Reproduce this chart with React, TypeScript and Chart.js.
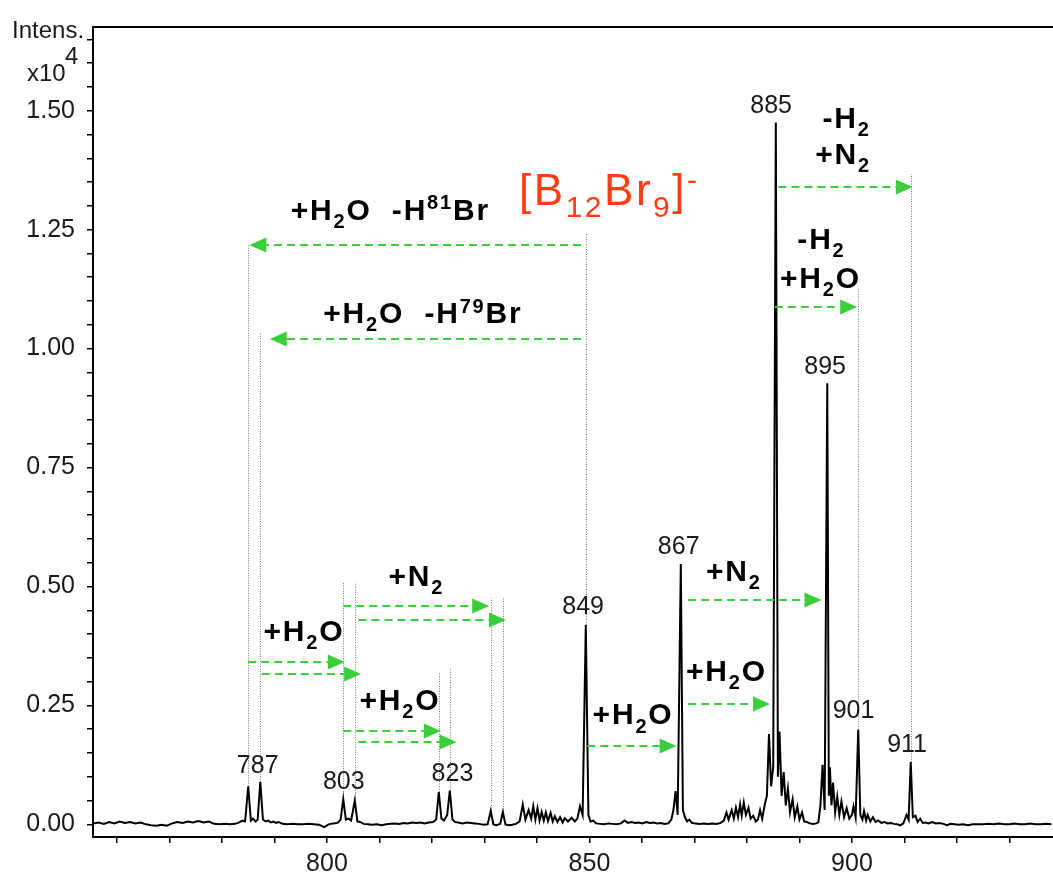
import React, { useEffect, useRef } from 'react';
import { Chart, registerables } from 'chart.js';

Chart.register(...registerables);

// ---- data: [m/z, intensity (x10^4)] ----
const spectrum: [number, number][] = [
  [755.5, 0.002], [756.5, 0.004], [757.5, 0.001], [758.5, 0.005], [759.5, 0.002], [760.5, 0.006],
  [761.5, 0.003], [762.5, 0.005], [763.5, 0.002], [764.5, 0.004], [765.5, 0.0], [766.5, -0.002],
  [767.5, -0.003], [768.5, -0.001], [769.5, -0.003], [770.5, 0.002], [771.5, 0.005], [772.5, 0.003],
  [773.5, 0.006], [774.5, 0.004], [775.5, 0.007], [776.5, 0.004], [777.5, 0.006], [778.5, 0.001],
  [779.5, 0.0], [780.5, 0.001], [781.5, 0.0], [782.5, 0.001], [783.3, 0.004], [783.9, 0.008],
  [784.4, 0.006], [785.0, 0.08], [785.5, 0.008], [785.9, 0.012], [786.4, 0.006], [786.8, 0.01],
  [787.3, 0.089], [787.8, 0.01], [788.3, 0.006], [788.8, 0.008], [789.3, 0.004], [789.8, 0.006],
  [790.3, 0.003], [790.8, 0.005], [791.5, 0.001], [792.5, 0.0], [793.5, 0.001], [794.5, 0.0],
  [795.5, 0.0], [796.5, 0.001], [797.5, 0.0], [798.5, -0.001], [799.5, -0.006], [800.3, 0.0],
  [801.2, 0.002], [802.0, 0.003], [802.6, 0.01], [803.1, 0.053], [803.6, 0.01], [804.1, 0.012],
  [804.6, 0.008], [805.3, 0.05], [805.8, 0.006], [806.3, 0.005], [807.0, 0.001], [807.8, 0.0],
  [808.6, -0.001], [809.5, 0.0], [810.4, -0.002], [811.3, 0.0], [812.2, 0.001], [813.0, 0.002],
  [813.8, 0.001], [814.6, 0.003], [815.4, 0.002], [816.2, 0.004], [817.0, 0.003], [817.8, 0.004],
  [818.6, 0.002], [819.4, 0.004], [820.2, 0.005], [820.8, 0.01], [821.3, 0.068], [821.8, 0.012],
  [822.3, 0.008], [822.9, 0.02], [823.4, 0.071], [823.9, 0.01], [824.4, 0.005], [825.0, 0.004],
  [825.8, 0.002], [826.6, 0.004], [827.4, 0.003], [828.2, 0.002], [829.0, 0.001], [829.8, -0.001],
  [830.6, 0.0], [831.2, 0.028], [831.7, 0.0], [832.3, -0.002], [833.0, 0.001], [833.5, 0.026],
  [834.0, 0.0], [834.6, -0.002], [835.3, -0.001], [836.0, 0.001], [836.7, 0.006], [837.3, 0.042],
  [837.8, 0.01], [838.4, 0.03], [838.9, 0.012], [839.3, 0.038], [839.7, 0.01], [840.1, 0.034],
  [840.5, 0.008], [840.9, 0.026], [841.3, 0.008], [841.7, 0.025], [842.1, 0.007], [842.6, 0.024],
  [843.0, 0.006], [843.4, 0.017], [843.9, 0.005], [844.4, 0.015], [844.9, 0.004], [845.3, 0.013],
  [845.9, 0.006], [846.6, 0.014], [847.2, 0.006], [847.7, 0.012], [848.2, 0.038], [848.7, 0.02],
  [849.3, 0.419], [849.8, 0.02], [850.2, 0.006], [850.7, 0.008], [851.3, 0.002], [852.0, 0.001],
  [852.8, 0.0], [853.6, 0.002], [854.4, 0.001], [855.2, 0.0], [856.0, 0.002], [856.7, 0.008],
  [857.3, 0.003], [858.0, 0.005], [858.7, 0.003], [859.4, 0.004], [860.1, 0.002], [860.8, 0.005],
  [861.5, 0.003], [862.2, 0.004], [862.9, 0.002], [863.6, 0.003], [864.3, 0.001], [865.0, 0.002],
  [865.6, 0.01], [866.0, 0.03], [866.4, 0.07], [866.8, 0.02], [867.4, 0.547], [867.8, 0.03],
  [868.2, 0.015], [868.6, 0.006], [869.0, 0.01], [869.5, 0.003], [870.2, 0.002], [871.0, 0.001],
  [871.8, 0.002], [872.6, 0.001], [873.4, 0.002], [874.2, 0.001], [875.0, 0.003], [875.6, 0.008],
  [876.1, 0.025], [876.5, 0.01], [877.1, 0.03], [877.5, 0.012], [877.9, 0.035], [878.3, 0.015],
  [878.7, 0.042], [879.0, 0.018], [879.4, 0.046], [879.8, 0.02], [880.3, 0.035], [880.7, 0.012],
  [881.2, 0.018], [881.7, 0.006], [882.1, 0.01], [882.5, 0.03], [882.9, 0.012], [883.4, 0.042],
  [883.8, 0.06], [884.2, 0.19], [884.6, 0.08], [885.0, 0.12], [885.5, 1.475], [885.9, 0.1],
  [886.2, 0.195], [886.6, 0.06], [887.0, 0.11], [887.4, 0.04], [887.8, 0.075], [888.2, 0.025],
  [888.7, 0.053], [889.1, 0.015], [889.6, 0.038], [890.0, 0.01], [890.5, 0.025], [890.9, 0.006],
  [891.4, 0.005], [892.0, 0.002], [892.6, 0.001], [893.2, 0.002], [893.6, 0.004], [894.0, 0.04],
  [894.4, 0.125], [894.8, 0.03], [895.3, 0.927], [895.6, 0.06], [895.8, 0.12], [896.1, 0.04],
  [896.4, 0.088], [896.8, 0.025], [897.2, 0.058], [897.6, 0.02], [898.0, 0.048], [898.5, 0.015],
  [899.0, 0.034], [899.5, 0.012], [900.0, 0.02], [900.3, 0.038], [900.7, 0.015], [901.2, 0.199],
  [901.6, 0.02], [902.0, 0.01], [902.3, 0.028], [902.7, 0.008], [903.0, 0.02], [903.5, 0.006],
  [904.0, 0.015], [904.5, 0.005], [905.0, 0.008], [905.6, 0.003], [906.2, 0.005], [906.8, 0.002],
  [907.4, 0.003], [908.0, 0.001], [908.6, 0.0], [909.2, -0.002], [909.8, 0.002], [910.4, 0.02],
  [910.8, 0.01], [911.2, 0.131], [911.6, 0.015], [912.1, 0.018], [912.5, 0.005], [913.0, 0.012],
  [913.5, 0.003], [914.0, 0.004], [914.6, 0.002], [915.3, 0.005], [916.0, 0.002], [916.7, 0.003],
  [917.4, 0.001], [918.1, -0.002], [918.8, 0.001], [919.5, 0.0], [920.3, -0.001], [921.2, 0.0],
  [922.1, -0.002], [923.0, 0.0], [924.0, 0.0], [925.0, 0.0], [926.0, 0.001], [927.0, 0.0],
  [928.0, 0.002], [929.0, 0.0], [930.0, 0.0], [931.0, 0.002], [932.0, 0.0], [933.0, 0.0],
  [934.0, 0.002], [935.0, 0.0], [936.0, 0.0], [937.0, 0.001], [938.0, 0.0],
];

const yTickLabels = ['0.00', '0.25', '0.50', '0.75', '1.00', '1.25', '1.50'];
const xTickLabels = ['800', '850', '900'];
const yMinorStep = 0.05;
const xMinorStep = 10;
const X_MIN = 755.43;
const X_MAX = 938.3;
const Y_MIN = -0.0266;
const Y_MAX = 1.676;

// peak m/z labels
const peakLabels = [
  { text: '787', x: 786.8, y: 0.108 },
  { text: '803', x: 803.2, y: 0.075 },
  { text: '823', x: 823.9, y: 0.091 },
  { text: '849', x: 848.8, y: 0.443 },
  { text: '867', x: 867.0, y: 0.569 },
  { text: '885', x: 884.6, y: 1.496 },
  { text: '895', x: 894.9, y: 0.947 },
  { text: '901', x: 900.3, y: 0.223 },
  { text: '911', x: 910.5, y: 0.152 },
];

// vertical dotted guides: m/z, from, to
const guideX = [785.0, 787.3, 803.1, 805.3, 821.3, 823.4, 831.2, 833.5, 849.3, 901.2, 911.2];
const guideFrom = [0.08, 0.089, 0.053, 0.05, 0.068, 0.071, 0.028, 0.026, 0.419, 0.199, 0.131];
const guideTo = [1.217, 1.035, 0.508, 0.508, 0.318, 0.329, 0.476, 0.476, 1.244, 1.128, 1.367];

// green arrows: start m/z, tip m/z, level
const arrowFrom = [848.4, 848.4, 803.1, 806.0, 785.0, 787.6, 803.1, 806.0, 849.6, 868.8, 868.8, 886.0, 885.3];
const arrowTo = [785.2, 789.1, 830.9, 834.1, 803.4, 806.5, 821.7, 824.7, 866.6, 884.4, 894.2, 911.6, 901.0];
const arrowY = [1.217, 1.021, 0.459, 0.43, 0.341, 0.316, 0.196, 0.173, 0.164, 0.252, 0.471, 1.339, 1.088];

type Seg = [string, ('sub' | 'sup')?];
const reactionLabels: { x: number; y: number; segs: Seg[] }[] = [
  { x: 793.1, y: 1.27, segs: [['+H'], ['2', 'sub'], ['O  -H'], ['81', 'sup'], ['Br']] },
  { x: 799.3, y: 1.053, segs: [['+H'], ['2', 'sub'], ['O  -H'], ['79', 'sup'], ['Br']] },
  { x: 811.7, y: 0.501, segs: [['+N'], ['2', 'sub']] },
  { x: 787.9, y: 0.386, segs: [['+H'], ['2', 'sub'], ['O']] },
  { x: 806.2, y: 0.241, segs: [['+H'], ['2', 'sub'], ['O']] },
  { x: 850.6, y: 0.21, segs: [['+H'], ['2', 'sub'], ['O']] },
  { x: 868.4, y: 0.302, segs: [['+H'], ['2', 'sub'], ['O']] },
  { x: 872.2, y: 0.512, segs: [['+N'], ['2', 'sub']] },
  { x: 894.4, y: 1.464, segs: [['-H'], ['2', 'sub']] },
  { x: 893.0, y: 1.388, segs: [['+N'], ['2', 'sub']] },
  { x: 889.6, y: 1.21, segs: [['-H'], ['2', 'sub']] },
  { x: 886.3, y: 1.127, segs: [['+H'], ['2', 'sub'], ['O']] },
];
const titleLabel = { x: 836.6, y: 1.301, segs: [['[B'], ['12', 'sub'], ['Br'], ['9', 'sub'], [']'], ['-', 'sup']] as Seg[] };

const FONT = '"Liberation Sans", Arial, Helvetica, sans-serif';
const GREEN = 'rgb(60,205,60)';

function drawRich(
  ctx: CanvasRenderingContext2D,
  segs: Seg[],
  x: number,
  y: number,
  size: number,
  color: string,
  weight: string,
  spacing: number
) {
  ctx.save();
  ctx.fillStyle = color;
  ctx.textBaseline = 'alphabetic';
  ctx.textAlign = 'left';
  let cx = x;
  for (const [t, kind] of segs) {
    const fs = kind ? Math.round(size * 0.68) : size;
    ctx.font = `${weight} ${fs}px ${FONT}`;
    (ctx as any).letterSpacing = `${spacing}px`;
    const dy = kind === 'sub' ? size * 0.27 : kind === 'sup' ? -size * 0.36 : 0;
    ctx.fillText(t, cx, y + dy);
    cx += ctx.measureText(t).width;
  }
  ctx.restore();
}

const annotationPlugin = {
  id: 'msAnnotations',
  beforeDatasetsDraw(chart: any) {
    const { ctx, scales } = chart;
    const xs = scales.x;
    const ys = scales.y;
    ctx.save();
    ctx.strokeStyle = '#777';
    ctx.lineWidth = 1;
    ctx.setLineDash([1, 1.5]);
    guideX.forEach((gx, i) => {
      const px = Math.round(xs.getPixelForValue(gx)) + 0.5;
      ctx.beginPath();
      ctx.moveTo(px, ys.getPixelForValue(guideFrom[i]));
      ctx.lineTo(px, ys.getPixelForValue(guideTo[i]));
      ctx.stroke();
    });
    ctx.restore();
  },
  afterDatasetsDraw(chart: any) {
    const { ctx, scales, chartArea } = chart;
    const xs = scales.x;
    const ys = scales.y;

    // top frame line
    ctx.save();
    ctx.strokeStyle = '#000';
    ctx.lineWidth = 2;
    ctx.beginPath();
    ctx.moveTo(chartArea.left, chartArea.top);
    ctx.lineTo(chartArea.right, chartArea.top);
    ctx.stroke();
    ctx.restore();

    // arrows
    ctx.save();
    ctx.strokeStyle = GREEN;
    ctx.fillStyle = GREEN;
    ctx.lineWidth = 2;
    arrowFrom.forEach((fx, i) => {
      const x0 = xs.getPixelForValue(fx);
      const x1 = xs.getPixelForValue(arrowTo[i]);
      const y = Math.round(ys.getPixelForValue(arrowY[i]));
      const dir = x1 > x0 ? 1 : -1;
      const headLen = 17;
      const headHalf = 7.5;
      ctx.setLineDash([8, 5]);
      ctx.beginPath();
      ctx.moveTo(x0, y);
      ctx.lineTo(x1 - dir * headLen, y);
      ctx.stroke();
      ctx.setLineDash([]);
      ctx.beginPath();
      ctx.moveTo(x1, y);
      ctx.lineTo(x1 - dir * headLen, y - headHalf);
      ctx.lineTo(x1 - dir * headLen, y + headHalf);
      ctx.closePath();
      ctx.fill();
    });
    ctx.restore();

    // reaction labels
    reactionLabels.forEach((l) => {
      drawRich(ctx, l.segs, xs.getPixelForValue(l.x), ys.getPixelForValue(l.y), 30, '#000', 'bold', 1.8);
    });
    drawRich(ctx, titleLabel.segs, xs.getPixelForValue(titleLabel.x), ys.getPixelForValue(titleLabel.y), 44, 'rgb(255,60,20)', 'normal', 2.5);

    // peak labels
    ctx.save();
    ctx.fillStyle = '#1a1a1a';
    ctx.font = `25px ${FONT}`;
    ctx.textAlign = 'center';
    ctx.textBaseline = 'alphabetic';
    peakLabels.forEach((p) => {
      ctx.fillText(p.text, xs.getPixelForValue(p.x), ys.getPixelForValue(p.y));
    });
    ctx.restore();

    // axis title
    ctx.save();
    ctx.fillStyle = '#1a1a1a';
    ctx.font = `24px ${FONT}`;
    ctx.textAlign = 'left';
    ctx.textBaseline = 'alphabetic';
    ctx.fillText('Intens.', chartArea.left - 81, chartArea.top + 11);
    ctx.fillText('x10', chartArea.left - 66, chartArea.top + 54);
    ctx.fillText('4', chartArea.left - 28, chartArea.top + 37);
    ctx.restore();
  },
};

const yLabelSet = new Set(yTickLabels.map((s) => Math.round(parseFloat(s) * 100)));
const xLabelSet = new Set(xTickLabels.map((s) => Math.round(parseFloat(s))));

export default function App() {
  const canvasRef = useRef<HTMLCanvasElement | null>(null);

  useEffect(() => {
    const canvas = canvasRef.current;
    if (!canvas) return;
    const chart = new Chart(canvas, {
      type: 'line',
      data: {
        datasets: [
          {
            data: spectrum.map(([x, y]) => ({ x, y })),
            borderColor: '#000',
            borderWidth: 2,
            pointRadius: 0,
            tension: 0,
            fill: false,
          },
        ],
      },
      options: {
        animation: false,
        responsive: false,
        devicePixelRatio: 1,
        layout: { padding: { top: 24, left: 0, right: 0, bottom: 0 } },
        plugins: { legend: { display: false }, tooltip: { enabled: false } },
        scales: {
          x: {
            type: 'linear',
            min: X_MIN,
            max: X_MAX,
            afterFit: (s: any) => {
              s.height = 43;
            },
            afterBuildTicks: (s: any) => {
              const t = [];
              for (let v = 760; v <= X_MAX; v += xMinorStep) t.push({ value: v });
              s.ticks = t;
            },
            ticks: {
              autoSkip: false,
              maxRotation: 0,
              padding: 6,
              color: '#1a1a1a',
              font: { family: FONT, size: 25 },
              callback: (v: any) => (xLabelSet.has(Math.round(v)) ? String(Math.round(v)) : ''),
            },
            grid: { display: true, drawOnChartArea: false, drawTicks: true, tickLength: 6, color: '#000', lineWidth: 1.5 },
            border: { display: true, color: '#000', width: 2 },
          },
          y: {
            type: 'linear',
            min: Y_MIN,
            max: Y_MAX,
            afterFit: (s: any) => {
              s.width = 93;
            },
            afterBuildTicks: (s: any) => {
              const t = [];
              for (let k = 0; k * yMinorStep <= Y_MAX; k++) t.push({ value: Math.round(k * yMinorStep * 100) / 100 });
              s.ticks = t;
            },
            ticks: {
              autoSkip: false,
              padding: 12,
              color: '#1a1a1a',
              font: { family: FONT, size: 25 },
              callback: (v: any) => (yLabelSet.has(Math.round(v * 100)) ? Number(v).toFixed(2) : ''),
            },
            grid: { display: true, drawOnChartArea: false, drawTicks: true, tickLength: 6, color: '#000', lineWidth: 1.5 },
            border: { display: true, color: '#000', width: 2 },
          },
        },
      },
      plugins: [annotationPlugin],
    });
    return () => chart.destroy();
  }, []);

  return (
    <div style={{ position: 'absolute', left: 0, top: 0, width: 1053, height: 880, background: '#fff' }}>
      <canvas ref={canvasRef} width={1053} height={880} style={{ width: 1053, height: 880, display: 'block' }} />
    </div>
  );
}
